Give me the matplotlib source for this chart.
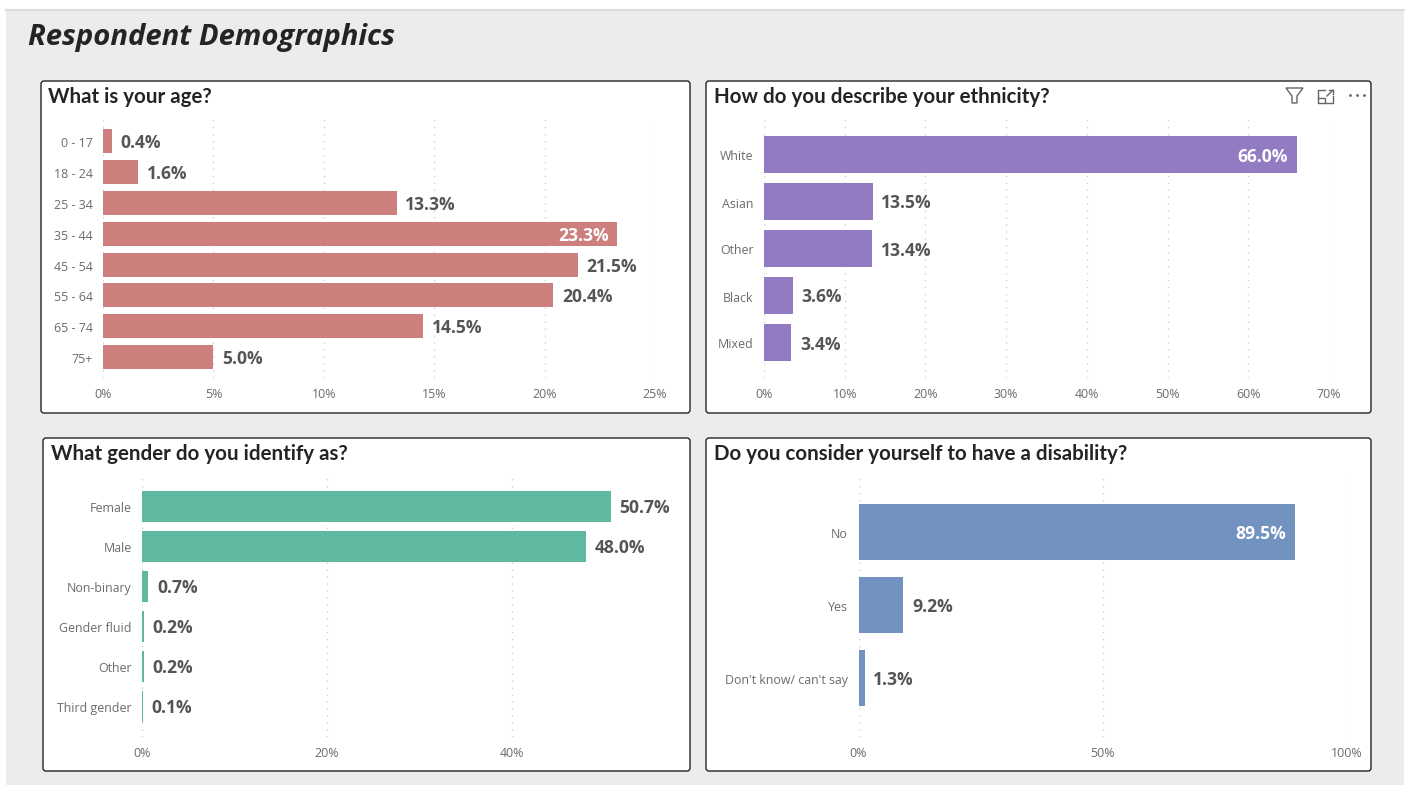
import matplotlib
matplotlib.use("Agg")
import matplotlib.pyplot as plt
from matplotlib.patches import FancyBboxPatch, Rectangle, Polygon
from matplotlib.transforms import ScaledTranslation

W, H = 1407, 785

age_cats = ["0 - 17", "18 - 24", "25 - 34", "35 - 44", "45 - 54", "55 - 64", "65 - 74", "75+"]
age_vals = [0.4, 1.6, 13.3, 23.3, 21.5, 20.4, 14.5, 5.0]
age_ticks = [0, 5, 10, 15, 20, 25]

eth_cats = ["White", "Asian", "Other", "Black", "Mixed"]
eth_vals = [66.0, 13.5, 13.4, 3.6, 3.4]
eth_ticks = [0, 10, 20, 30, 40, 50, 60, 70]

gender_cats = ["Female", "Male", "Non-binary", "Gender fluid", "Other", "Third gender"]
gender_vals = [50.7, 48.0, 0.7, 0.2, 0.2, 0.1]
gender_ticks = [0, 20, 40]

dis_cats = ["No", "Yes", "Don't know/ can't say"]
dis_vals = [89.5, 9.2, 1.3]
dis_ticks = [0, 50, 100]

TEXT = "#252423"
LABEL = "#555555"
TICK = "#6b6b6b"


def panel(bg, box, title, title_x):
    x0, y0, x1, y1 = box
    bg.add_patch(FancyBboxPatch((x0 + 2, y0 + 2), x1 - x0 - 4, y1 - y0 - 4,
                                boxstyle="round,pad=2,rounding_size=3",
                                fc="white", ec="#222222", lw=1.0))
    bg.text(title_x, y0 + 16, title, fontsize=14.8, fontweight="bold", family="Lato",
            color=TEXT, va="center", ha="left")


def bars(cats, vals, ticks, color, xpx, xmax, ypx, first, step, bar_h, white_over):
    # xpx = pixel pos of first and last tick, ypx = top/bottom of the gridlines
    left, last_tick = xpx
    top, bottom = ypx
    px_per_unit = (last_tick - left) / (ticks[-1] - ticks[0])
    right = left + xmax * px_per_unit
    ax = fig.add_axes([left / W, 1 - bottom / H, (right - left) / W, (bottom - top) / H])
    ax.patch.set_alpha(0)
    ax.barh(range(len(cats)), vals, height=bar_h / step, color=color, zorder=2)
    ax.set_xlim(0, xmax)
    ax.set_ylim((bottom - first) / step, (top - first) / step)
    ax.set_yticks(range(len(cats)), cats)
    ax.set_xticks(ticks, [f"{t}%" for t in ticks])
    ax.tick_params(length=0, labelsize=8.9, labelcolor=TICK, pad=7.5)
    ax.tick_params(axis="x", pad=7)
    # category labels sit a pixel lower than the bar centre
    nudge = ScaledTranslation(0, -1 / 100, fig.dpi_scale_trans)
    for lab in ax.get_yticklabels():
        lab.set_transform(lab.get_transform() + nudge)
    for s in ax.spines.values():
        s.set_visible(False)
    ax.grid(axis="x", color="#d0d0d0", lw=1, ls=(0, (1, 4)), zorder=0)
    ax.set_axisbelow(True)
    for i, v in enumerate(vals):
        if v >= white_over:
            ax.text(v - 9 / px_per_unit, i + 2 / step, f"{v:.1f}%", color="white", fontsize=12.6,
                    fontweight="bold", va="center", ha="right", zorder=3)
        else:
            ax.text(v + 8.5 / px_per_unit, i + 2 / step, f"{v:.1f}%", color=LABEL, fontsize=12.6,
                    fontweight="bold", va="center", ha="left", zorder=3)
    return ax


plt.rcParams["font.family"] = "Open Sans"
fig = plt.figure(figsize=(W / 100, H / 100), dpi=100, facecolor="white")

bg = fig.add_axes([0, 0, 1, 1])
bg.set_xlim(0, W)
bg.set_ylim(H, 0)
bg.axis("off")
bg.add_patch(Rectangle((6, 10), 1398, 775, fc="#ececec", ec="none"))
bg.plot([6, 1404], [10, 10], color="#dcdcdc", lw=1.5)

bg.text(28, 38, "Respondent Demographics", fontsize=21.1, fontweight="bold", style="italic",
        color=TEXT, va="center", ha="left")

panel(bg, (41, 81, 690, 413), "What is your age?", 48)
panel(bg, (706, 81, 1371, 413), "How do you describe your ethnicity?", 714)
panel(bg, (43, 438, 690, 771), "What gender do you identify as?", 51)
panel(bg, (706, 438, 1371, 771), "Do you consider yourself to have a disability?", 714)

# header icons on the ethnicity visual
icon = "#666666"
bg.add_patch(Polygon([(1286, 88), (1303, 88), (1297, 96), (1297, 103), (1292, 103), (1292, 96)],
                     closed=True, fc="none", ec=icon, lw=1))
bg.plot([1325, 1318, 1318, 1333, 1333], [90, 90, 103, 103, 96], color=icon, lw=1)
bg.plot([1318, 1325, 1325], [98, 98, 103], color=icon, lw=1)
bg.plot([1327, 1333], [96, 90], color=icon, lw=1)
bg.plot([1329, 1333, 1333], [90, 90, 94], color=icon, lw=1)
bg.scatter([1350, 1357, 1364], [95, 95, 95], s=4, color=icon, linewidths=0)

bars(age_cats, age_vals, age_ticks, "#cd7f7d", (103, 655), 25, (118, 378), 141.4, 30.8, 24, 23)
bars(eth_cats, eth_vals, eth_ticks, "#927bc2", (764, 1329), 70, (118, 378), 154.5, 47, 37, 60)
bars(gender_cats, gender_vals, gender_ticks, "#5eb9a0", (142, 512), 55, (475, 737), 506.4, 40, 31, 99)
bars(dis_cats, dis_vals, dis_ticks, "#7293bf", (858.5, 1346.5), 100, (475, 737), 532.4, 73, 56, 60)

fig.savefig("out.png", dpi=100)
